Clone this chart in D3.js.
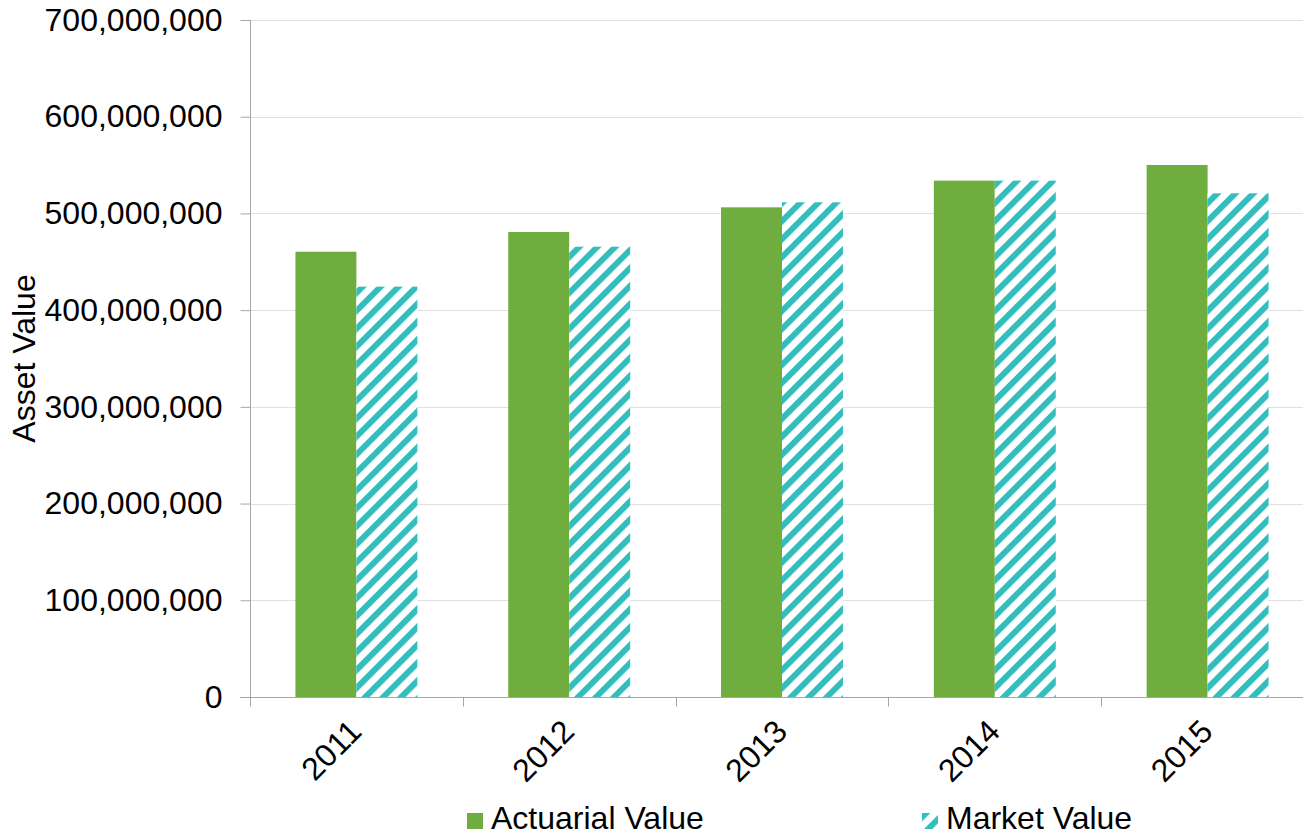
<!DOCTYPE html>
<html>
<head>
<meta charset="utf-8">
<script src="https://cdn.jsdelivr.net/npm/d3@7"></script>
<style>
  html, body { margin: 0; padding: 0; background: #fff; }
  svg { display: block; font-family: "Liberation Sans", Arial, sans-serif; }
</style>
</head>
<body>
<svg id="chart" width="1303" height="836"></svg>
<script>
const categories = ["2011", "2012", "2013", "2014", "2015"];
const seriesNames = ["Actuarial Value", "Market Value"];
const actuarialValues = [460400000, 480800000, 506300000, 533900000, 550100000];
const marketValues = [424300000, 465600000, 511500000, 533900000, 520800000];
const yTicks = [0, 100000000, 200000000, 300000000, 400000000, 500000000, 600000000, 700000000];

(function () {
const W = 1303, H = 836;
const pLeft = 250, pRight = 1314, pTop = 20, pBottom = 697;
const green = "#70AD3F", teal = "#34BDBD";
const axisColor = "#A6A6A6", gridColor = "#E0E0E0";
const fontSize = 32;

const svg = d3.select("#chart");

// hatch pattern
const defs = svg.append("defs");
const pat = defs.append("pattern")
  .attr("id", "hatch")
  .attr("patternUnits", "userSpaceOnUse")
  .attr("width", 12.7).attr("height", 12.7)
  .attr("patternTransform", "rotate(45)");
pat.append("rect").attr("width", 12.7).attr("height", 12.7).attr("fill", "#fff");
pat.append("rect").attr("width", 6.0).attr("height", 12.7).attr("fill", teal);

const x = d3.scaleBand().domain(categories).range([pLeft, pRight]).paddingInner(0).paddingOuter(0);
const groupFrac = 0.573;
const x1 = d3.scaleBand().domain(seriesNames)
  .range([x.bandwidth() * (1 - groupFrac) / 2, x.bandwidth() * (1 + groupFrac) / 2]);
const y = d3.scaleLinear().domain([0, 700000000]).range([pBottom, pTop]);

// gridlines
svg.append("g").selectAll("line").data(yTicks.filter(d => d > 0)).join("line")
  .attr("x1", pLeft).attr("x2", W)
  .attr("y1", d => Math.round(y(d)) + 0.5).attr("y2", d => Math.round(y(d)) + 0.5)
  .attr("stroke", gridColor).attr("stroke-width", 1);

// bars
const rows = categories.map((c, i) => ({ c, vals: [actuarialValues[i], marketValues[i]] }));
const g = svg.append("g").selectAll("g").data(rows).join("g")
  .attr("transform", d => `translate(${x(d.c)},0)`);
g.selectAll("rect").data(d => d.vals.map((v, j) => ({ name: seriesNames[j], v }))).join("rect")
  .attr("x", d => x1(d.name))
  .attr("width", x1.bandwidth())
  .attr("y", d => y(d.v))
  .attr("height", d => y(0) - y(d.v))
  .attr("fill", d => d.name === seriesNames[0] ? green : "url(#hatch)");

// y axis
const yAxis = d3.axisLeft(y).tickValues(yTicks).tickFormat(d3.format(",")).tickSize(10).tickPadding(18);
const ya = svg.append("g").attr("transform", `translate(${pLeft + 0.5},0)`).call(yAxis);
ya.attr("font-size", null).attr("font-family", null);
ya.select(".domain").attr("stroke", axisColor).attr("d", `M0,${pTop}V${pBottom + 9}`);
ya.selectAll(".tick line").attr("stroke", axisColor);
ya.selectAll(".tick text").attr("font-size", fontSize).attr("fill", "#000");

// x axis
const xa = svg.append("g").attr("transform", `translate(0,${pBottom + 0.5})`);
xa.append("line").attr("x1", pLeft - 10).attr("x2", W).attr("y1", 0).attr("y2", 0).attr("stroke", axisColor);
const bounds = categories.map(c => x(c)).concat([pRight]);
xa.selectAll("line.tk").data(bounds).join("line").attr("class", "tk")
  .attr("x1", d => Math.round(d) + 0.5).attr("x2", d => Math.round(d) + 0.5)
  .attr("y1", 0).attr("y2", 9).attr("stroke", axisColor);
xa.selectAll("text").data(categories).join("text")
  .attr("transform", d => `translate(${x(d) + x.bandwidth() / 2 + 7},36) rotate(-45)`)
  .attr("text-anchor", "end")
  .attr("font-size", fontSize)
  .attr("fill", "#000")
  .text(d => d);

// y title
svg.append("text")
  .attr("transform", `translate(35,${(pTop + pBottom) / 2}) rotate(-90)`)
  .attr("text-anchor", "middle")
  .attr("font-size", fontSize)
  .attr("fill", "#000")
  .text("Asset Value");

// legend
const legendItems = [
  { name: seriesNames[0], x: 467, fill: green },
  { name: seriesNames[1], x: 922, fill: "url(#hatch)" }
];
const lg = svg.append("g").selectAll("g").data(legendItems).join("g")
  .attr("transform", d => `translate(${d.x},813)`);
lg.append("rect").attr("width", 16).attr("height", 16).attr("fill", d => d.fill);
lg.append("text").attr("x", 24).attr("y", 16).attr("font-size", fontSize).attr("fill", "#000")
  .text(d => d.name);
})();
</script>
</body>
</html>
